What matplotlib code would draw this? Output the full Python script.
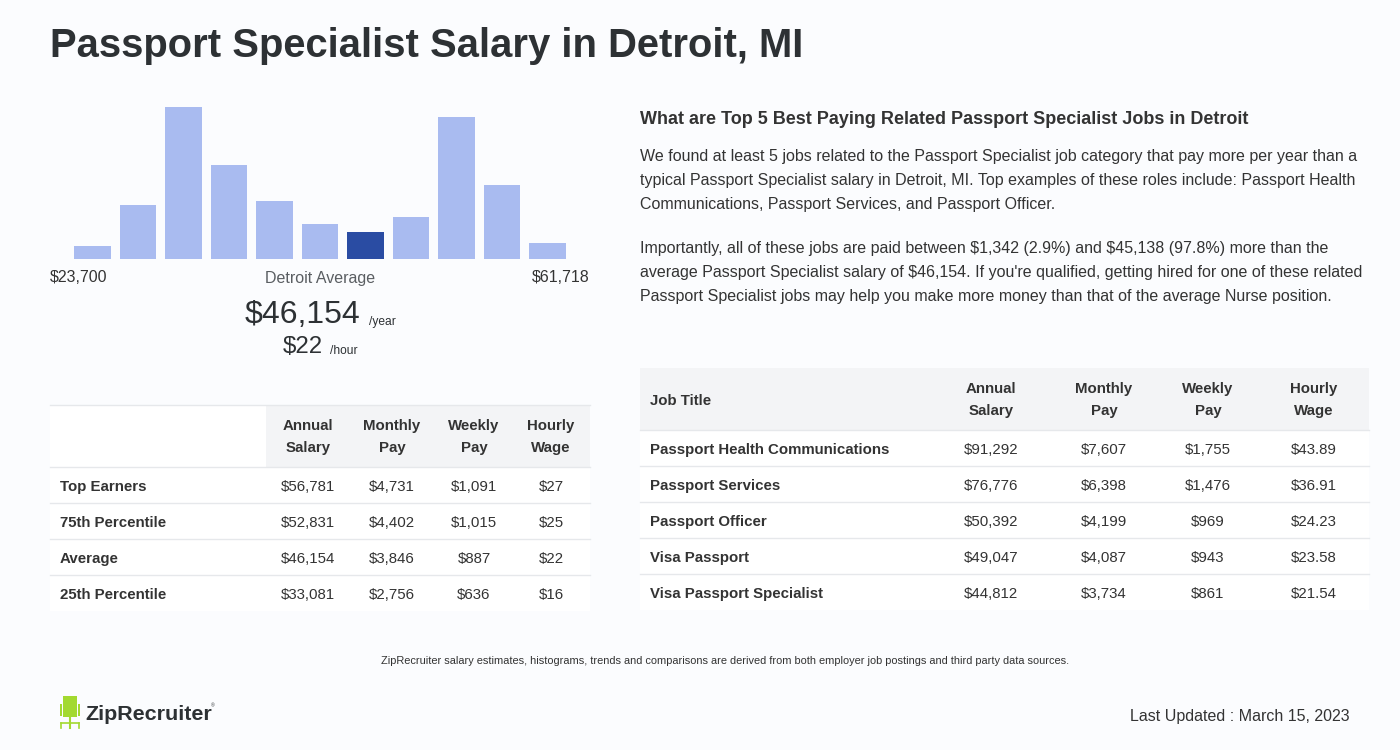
import matplotlib
matplotlib.use("Agg")

import matplotlib.pyplot as plt
from matplotlib.patches import Rectangle

plt.rcParams['font.family'] = ['Liberation Sans', 'DejaVu Sans']
plt.rcParams['text.parse_math'] = False

# ------------------ data ------------------ #
title = "Passport Specialist Salary in Detroit, MI"
hist_heights = [13, 54, 152, 94, 58, 35, 27, 42, 142, 74, 16]
avg_bin = 6
range_low, range_high = "$23,700", "$61,718"
avg_year, avg_hour = "$46,154", "$22"

pct_labels = ["Top Earners", "75th Percentile", "Average", "25th Percentile"]
pct_annual = [56781, 52831, 46154, 33081]
pct_monthly = [4731, 4402, 3846, 2756]
pct_weekly = [1091, 1015, 887, 636]
pct_hourly = [27, 25, 22, 16]

jobs = ["Passport Health Communications", "Passport Services", "Passport Officer",
        "Visa Passport", "Visa Passport Specialist"]
job_annual = [91292, 76776, 50392, 49047, 44812]
job_monthly = [7607, 6398, 4199, 4087, 3734]
job_weekly = [1755, 1476, 969, 943, 861]
job_hourly = [43.89, 36.91, 24.23, 23.58, 21.54]

col_heads = ["Annual\nSalary", "Monthly\nPay", "Weekly\nPay", "Hourly\nWage"]

heading = "What are Top 5 Best Paying Related Passport Specialist Jobs in Detroit"
para1 = ["We found at least 5 jobs related to the Passport Specialist job category that pay more per year than a",
         "typical Passport Specialist salary in Detroit, MI. Top examples of these roles include: Passport Health",
         "Communications, Passport Services, and Passport Officer."]
para2 = ["Importantly, all of these jobs are paid between $1,342 (2.9%) and $45,138 (97.8%) more than the",
         "average Passport Specialist salary of $46,154. If you're qualified, getting hired for one of these related",
         "Passport Specialist jobs may help you make more money than that of the average Nurse position."]
footnote = "ZipRecruiter salary estimates, histograms, trends and comparisons are derived from both employer job postings and third party data sources."
updated = "Last Updated : March 15, 2023"

# ------------------ styles ------------------ #
W, H = 1400, 750
BG = '#fbfcfe'
DARK = '#2d3134'
TXT = '#333333'
LIGHT_BAR = '#a9bbf0'
DARK_BAR = '#2a4ca3'
HEAD_BG = '#f3f4f6'
LINE = '#e6e8eb'
DY = 2  # small nudge so text centres sit like the reference


def pt(px):
    return px * 0.72


fig = plt.figure(figsize=(14, 7.5), dpi=100)
fig.patch.set_facecolor(BG)
ax = fig.add_axes([0, 0, 1, 1])
ax.set_xlim(0, W)
ax.set_ylim(H, 0)
ax.axis('off')


def txt(x, y, s, size, **kw):
    kw.setdefault('color', TXT)
    kw.setdefault('va', 'center')
    kw.setdefault('ha', 'left')
    return ax.text(x, y + DY, s, fontsize=pt(size), **kw)


txt(50, 44, title, 40, fontweight='bold', color=DARK)

# ------------------ histogram ------------------ #
hx0, hx1, hy_top, hy_bot = 70, 570, 100, 259
hax = fig.add_axes([hx0 / W, 1 - hy_bot / H, (hx1 - hx0) / W, (hy_bot - hy_top) / H])
hax.axis('off')
colors = [DARK_BAR if i == avg_bin else LIGHT_BAR for i in range(len(hist_heights))]
hax.bar(range(len(hist_heights)), hist_heights, width=0.813, color=colors)
hax.set_xlim(-0.4945, 10.4945)
hax.set_ylim(0, 159)

txt(50, 276, range_low, 16)
txt(590, 276, range_high, 16, ha='right')
txt(320, 276, "Detroit Average", 16, color='#5a5e62', ha='center')
txt(360, 313, avg_year, 32, color=DARK, ha='right')
txt(369, 320, "/year", 12, color=DARK)
txt(323, 345, avg_hour, 24, color=DARK, ha='right')
txt(330, 349, "/hour", 12, color=DARK)

# ------------------ left table ------------------ #
lx0, lx1 = 50, 590
ax.add_patch(Rectangle((266, 405), lx1 - 266, 62, color=HEAD_BG, lw=0))
ax.add_patch(Rectangle((lx0, 405), 266 - lx0, 62, color='white', lw=0))
ax.add_patch(Rectangle((lx0, 467), lx1 - lx0, 144, color='white', lw=0))
ax.plot([lx0, lx1], [405, 405], color=LINE, lw=1)
lcols = [308, 392, 474, 551]
for cx, head in zip(lcols, col_heads):
    txt(cx, 435, head, 15, fontweight='bold', ha='center', linespacing=1.7)
for i, lab in enumerate(pct_labels):
    y = 485 + 36 * i
    ax.plot([lx0, lx1], [y - 18, y - 18], color=LINE, lw=1)
    txt(60, y, lab, 15, fontweight='bold')
    vals = [f"${pct_annual[i]:,}", f"${pct_monthly[i]:,}", f"${pct_weekly[i]:,}", f"${pct_hourly[i]}"]
    for cx, v in zip(lcols, vals):
        txt(cx, y, v, 15, ha='center')

# ------------------ right text ------------------ #
txt(640, 118, heading, 18, fontweight='bold')
for i, line in enumerate(para1):
    txt(640, 155 + 24 * i, line, 16)
for i, line in enumerate(para2):
    txt(640, 247 + 24 * i, line, 16)

# ------------------ right table ------------------ #
rx0, rx1 = 640, 1369
ax.add_patch(Rectangle((rx0, 368), rx1 - rx0, 62, color=HEAD_BG, lw=0))
ax.add_patch(Rectangle((rx0, 430), rx1 - rx0, 180, color='white', lw=0))
rcols = [991, 1104, 1208, 1314]
txt(650, 399, "Job Title", 15, fontweight='bold')
for cx, head in zip(rcols, col_heads):
    txt(cx, 398, head, 15, fontweight='bold', ha='center', linespacing=1.7)
for i, job in enumerate(jobs):
    y = 448 + 36 * i
    ax.plot([rx0, rx1], [y - 18, y - 18], color=LINE, lw=1)
    txt(650, y, job, 15, fontweight='bold')
    vals = [f"${job_annual[i]:,}", f"${job_monthly[i]:,}", f"${job_weekly[i]:,}", f"${job_hourly[i]:.2f}"]
    for cx, v in zip(rcols, vals):
        txt(cx, y, v, 15, ha='center')

# ------------------ footer ------------------ #
txt(725, 659, footnote, 11, ha='center')
txt(1350, 715, updated, 16, ha='right')

# logo: green chair + wordmark
GREEN = '#a3d930'
ax.add_patch(Rectangle((63, 696), 14, 21, color=GREEN, lw=0))
ax.add_patch(Rectangle((60, 704), 2, 12, color=GREEN, lw=0))
ax.add_patch(Rectangle((78, 704), 2, 12, color=GREEN, lw=0))
ax.plot([70, 70], [717, 728], color=GREEN, lw=1.5)
ax.plot([61, 79], [723, 723], color=GREEN, lw=1.2)
ax.plot([61, 61], [723, 728], color=GREEN, lw=1.2)
ax.plot([79, 79], [723, 728], color=GREEN, lw=1.2)
txt(85, 712, "ZipRecruiter", 21.5, fontweight='bold', color=DARK)
txt(211, 704, "®", 5, color=DARK)

plt.savefig('out.png', dpi=100, facecolor=BG)
